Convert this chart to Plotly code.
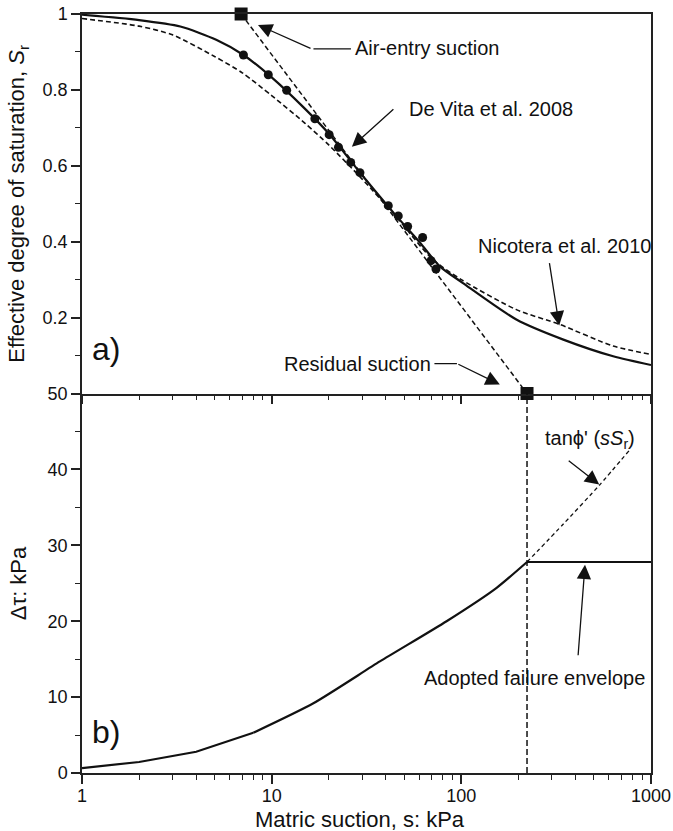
import plotly.graph_objects as go
import math

# ---------------- data ----------------
# a) effective degree of saturation vs matric suction
fit_s = [1, 2, 3.3, 5.1, 7.1, 10, 15, 20, 30, 45, 60, 77, 102, 195, 345, 632, 1000]
fit_sr = [0.998, 0.984, 0.967, 0.932, 0.892, 0.833, 0.75, 0.685, 0.575, 0.47, 0.40,
          0.335, 0.291, 0.195, 0.142, 0.098, 0.075]

nic_s = [1, 2, 3, 5, 7, 10, 15, 20, 30, 45, 70, 100, 195, 330, 632, 1000]
nic_sr = [0.988, 0.968, 0.945, 0.888, 0.845, 0.785, 0.712, 0.655, 0.565, 0.468, 0.355,
          0.30, 0.221, 0.182, 0.125, 0.103]

dv_s = [7.1, 9.6, 12.0, 16.9, 20.1, 22.5, 26.1, 29.2, 41.2, 46.5, 52.1, 62.5, 69.2, 73.5]
dv_sr = [0.892, 0.840, 0.799, 0.724, 0.682, 0.649, 0.609, 0.582, 0.495, 0.468, 0.440,
         0.411, 0.350, 0.328]

tan_s = [6.9, 222]          # air-entry suction, residual suction
tan_sr = [1.0, 0.0]

# b) shear strength increment
dt_s_low = [1, 2, 4, 8]
dt_kpa_low = [0.65, 1.45, 2.8, 5.3]
dt_s_high = [8, 16.6, 37.2, 83.6, 153.5, 222]
dt_kpa_high = [5.3, 9.19, 14.7, 20.0, 24.4, 27.8]
env_s = [222, 1000]
env_kpa = [27.8, 27.8]
ext_s = [222, 345, 538, 774]
ext_kpa = [27.8, 32.8, 38.0, 42.6]
res_line_s = [222, 222]
res_line_kpa = [0, 50]

# ---------------- styling ----------------
FONT = "Liberation Sans, Arial, sans-serif"
INK = "#111111"
AX = "#222222"

fig = go.Figure()

# top panel
fig.add_trace(go.Scatter(x=nic_s, y=nic_sr, mode="lines", xaxis="x", yaxis="y",
                         line=dict(color=INK, width=1.6, dash="5px,3px", shape="spline", smoothing=0.7)))
fig.add_trace(go.Scatter(x=fit_s, y=fit_sr, mode="lines", xaxis="x", yaxis="y",
                         line=dict(color=INK, width=2.2, shape="spline", smoothing=0.7)))
fig.add_trace(go.Scatter(x=tan_s, y=tan_sr, mode="lines+markers", xaxis="x", yaxis="y",
                         line=dict(color=INK, width=1.5, dash="5px,3px"),
                         marker=dict(symbol="square", size=13, color=INK), cliponaxis=False))
fig.add_trace(go.Scatter(x=dv_s, y=dv_sr, mode="markers", xaxis="x", yaxis="y",
                         marker=dict(symbol="circle", size=9, color=INK)))

# bottom panel
fig.add_trace(go.Scatter(x=res_line_s, y=res_line_kpa, mode="lines", xaxis="x2", yaxis="y2",
                         line=dict(color=INK, width=1.5, dash="6px,3px")))
fig.add_trace(go.Scatter(x=ext_s, y=ext_kpa, mode="lines", xaxis="x2", yaxis="y2",
                         line=dict(color=INK, width=1.3, dash="4px,3px", shape="spline", smoothing=0.6)))
fig.add_trace(go.Scatter(x=dt_s_low, y=dt_kpa_low, mode="lines", xaxis="x2", yaxis="y2",
                         line=dict(color=INK, width=2.2)))
fig.add_trace(go.Scatter(x=dt_s_high, y=dt_kpa_high, mode="lines", xaxis="x2", yaxis="y2",
                         line=dict(color=INK, width=2.2, shape="spline", smoothing=0.6)))
fig.add_trace(go.Scatter(x=env_s, y=env_kpa, mode="lines", xaxis="x2", yaxis="y2",
                         line=dict(color=INK, width=2.2)))

minor_x = [m * 10 ** d for d in range(3) for m in range(2, 10)]
tickfont = dict(family=FONT, size=18, color=INK)

common_x = dict(type="log", range=[0, 3], showline=True, linecolor=AX, linewidth=1.5,
                ticks="outside", ticklen=9, tickwidth=1.5, tickcolor=AX,
                tickmode="array", tickvals=[1, 10, 100, 1000], ticktext=["1", "10", "100", "1000"],
                minor=dict(ticks="outside", ticklen=5, tickwidth=1.3, tickcolor=AX,
                           tickmode="array", tickvals=minor_x),
                showgrid=False, zeroline=False, tickfont=tickfont, automargin=False)

common_y = dict(showline=True, linecolor=AX, linewidth=1.5, mirror=True, ticks="outside",
                ticklen=9, tickwidth=1.5, tickcolor=AX, tickmode="array",
                showgrid=False, zeroline=False, tickfont=tickfont, automargin=False)

fig.update_layout(
    width=673, height=831,
    margin=dict(l=82, r=22, t=14, b=58, autoexpand=False),
    paper_bgcolor="white", plot_bgcolor="white",
    showlegend=False,
    font=dict(family=FONT, color=INK, size=18),
    xaxis=dict(common_x, domain=[0, 1], anchor="y", showticklabels=False, mirror=True),
    xaxis2=dict(common_x, domain=[0, 1], anchor="y2", showticklabels=True, mirror=False,
                ticklabelstandoff=-3),
    yaxis=dict(common_y, domain=[0.5, 1], anchor="x", range=[0, 1],
               tickvals=[0.2, 0.4, 0.6, 0.8, 1.0],
               ticktext=["0.2", "0.4", "0.6", "0.8", "1"],
               minor=dict(ticks="outside", ticklen=5, tickwidth=1.3, tickcolor=AX,
                          tickmode="array", tickvals=[0.1, 0.3, 0.5, 0.7, 0.9])),
    yaxis2=dict(common_y, domain=[0, 0.5], anchor="x2", range=[0, 50],
                tickvals=[0, 10, 20, 30, 40, 50],
                minor=dict(ticks="outside", ticklen=5, tickwidth=1.3, tickcolor=AX,
                           tickmode="array", tickvals=[5, 15, 25, 35, 45])),
)

L = math.log10
ann_font = dict(family=FONT, size=20, color=INK)
arrow = dict(showarrow=True, arrowhead=2, arrowsize=2.2, arrowwidth=1.3, arrowcolor=INK,
             standoff=0, text="")
seg = dict(showarrow=True, arrowhead=0, arrowwidth=1.3, arrowcolor=INK, standoff=0, text="")

anns = []
# axis titles
anns.append(dict(text="Effective degree of saturation, <i>S</i><sub>r</sub>", xref="paper", yref="paper",
                 x=-0.1125, y=0.75, textangle=-90, showarrow=False, xanchor="center", yanchor="middle",
                 font=dict(family=FONT, size=22, color=INK)))
anns.append(dict(text="Δτ: kPa", xref="paper", yref="paper",
                 x=-0.1125, y=0.25, textangle=-90, showarrow=False, xanchor="center", yanchor="middle",
                 font=dict(family=FONT, size=22, color=INK)))
anns.append(dict(text="Matric suction, s: kPa", xref="paper", yref="paper",
                 x=0.488, y=-0.0615, showarrow=False, xanchor="center", yanchor="middle",
                 font=dict(family=FONT, size=22, color=INK)))
# panel labels
anns.append(dict(text="a)", xref="x", yref="y", x=L(1.1), y=0.116, showarrow=False,
                 xanchor="left", yanchor="middle", font=dict(family=FONT, size=32, color=INK)))
anns.append(dict(text="b)", xref="x2", yref="y2", x=L(1.1), y=5.45, showarrow=False,
                 xanchor="left", yanchor="middle", font=dict(family=FONT, size=32, color=INK)))

# Air-entry suction
anns.append(dict(text="Air-entry suction", xref="x", yref="y", x=1.43, y=0.9105, showarrow=False,
                 xanchor="left", yanchor="middle", font=ann_font))
anns.append(dict(seg, xref="x", yref="y", x=(351 - 82) / 189.7, y=(394 - 49) / 380, ax=-39, ay=0))
anns.append(dict(arrow, xref="x", yref="y", x=0.928, y=0.971, ax=54, ay=24))
# De Vita et al. 2008
anns.append(dict(text="De Vita et al. 2008", xref="x", yref="y", x=1.713, y=0.75, showarrow=False,
                 xanchor="left", yanchor="middle", font=ann_font))
anns.append(dict(arrow, xref="x", yref="y", x=1.423, y=0.65, ax=43, ay=-39))
# Nicotera et al. 2010
anns.append(dict(text="Nicotera et al. 2010", xref="x", yref="y", x=2.075, y=0.389, showarrow=False,
                 xanchor="left", yanchor="middle", font=ann_font))
anns.append(dict(arrow, xref="x", yref="y", x=2.516, y=0.179, ax=-10, ay=-64))
# Residual suction
anns.append(dict(text="Residual suction", xref="x", yref="y", x=1.054, y=0.079, showarrow=False,
                 xanchor="left", yanchor="middle", font=ann_font))
anns.append(dict(seg, xref="x", yref="y", x=(457 - 82) / 189.7, y=(394 - 364) / 380, ax=-24, ay=0))
anns.append(dict(arrow, xref="x", yref="y", x=2.203, y=0.0237, ax=-43, ay=-21))
# tan phi' (s Sr)
anns.append(dict(text="tanϕ' (<i>sS</i><sub>r</sub>)", xref="x2", yref="y2", x=2.4286, y=43.9,
                 showarrow=False, xanchor="left", yanchor="middle", font=ann_font))
anns.append(dict(arrow, xref="x2", yref="y2", x=2.727, y=38.0, ax=-32, ay=-25))
# Adopted failure envelope
anns.append(dict(text="Adopted failure envelope", xref="x2", yref="y2", x=1.794, y=12.57,
                 showarrow=False, xanchor="left", yanchor="middle", font=ann_font))
anns.append(dict(arrow, xref="x2", yref="y2", x=2.652, y=27.44, ax=-7, ay=92))

fig.update_layout(annotations=anns)

fig.write_html("out.html")
